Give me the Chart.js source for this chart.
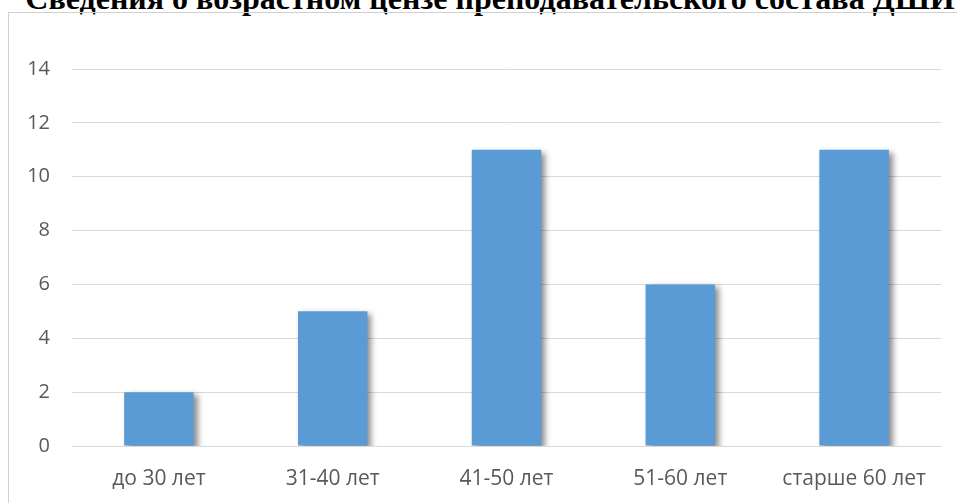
<!DOCTYPE html>
<html>
<head>
<meta charset="utf-8">
<script src="https://cdn.jsdelivr.net/npm/chart.js@4"></script>
<style>
  html, body { margin: 0; padding: 0; background: #fff; overflow: hidden; }
  body { width: 957px; height: 503px; position: relative; }
  #title {
    position: absolute; left: 0; top: -18px; width: 980px; text-align: center;
    font: bold 32px/32px "Liberation Serif", "DejaVu Serif", serif; color: #000; white-space: nowrap;
  }
  #frame {
    position: absolute; left: 8px; top: 12px; width: 970px; height: 510px;
    border: 1px solid #d0d0d0; box-sizing: border-box;
  }
  #wrap { position: absolute; left: 9px; top: 14px; width: 948px; height: 489px; }
</style>
</head>
<body>
<div id="title">Сведения о возрастном цензе преподавательского состава ДШИ</div>
<div id="frame"></div>
<div id="wrap"><canvas id="myChart"></canvas></div>
<script>
// categories and values
const categories = ["до 30 лет", "31-40 лет", "41-50 лет", "51-60 лет", "старше 60 лет"];
const teachers = [2, 5, 11, 6, 11];
const yTicks = [0, 2, 4, 6, 8, 10, 12, 14];

// soft shadow under the bars like in the office chart
const barShadow = {
    id: 'barShadow',
    beforeDatasetsDraw(chart) {
        const ctx = chart.ctx;
        ctx.save();
        ctx.shadowColor = 'rgba(0,0,0,0.45)';
        ctx.shadowBlur = 6;
        ctx.shadowOffsetX = 4;
        ctx.shadowOffsetY = 3;
    },
    afterDatasetsDraw(chart) {
        chart.ctx.restore();
    }
};

const ctx = document.getElementById('myChart').getContext('2d');
const myChart = new Chart(ctx, {
    type: 'bar',
    data: {
        labels: categories,
        datasets: [{
            label: 'преподаватели',
            data: teachers,
            backgroundColor: '#5b9bd5',
            borderWidth: 0,
            categoryPercentage: 1,
            barPercentage: 0.4
        }]
    },
    options: {
        responsive: true,
        maintainAspectRatio: false,
        animation: false,
        layout: { padding: { top: 55, right: 16, bottom: 0, left: 0 } },
        plugins: {
            legend: { display: false },
            tooltip: { enabled: false }
        },
        scales: {
            x: {
                afterFit: (axis) => { axis.height = 57; },
                grid: { display: false, drawTicks: false },
                border: { display: true, color: '#d9d9d9' },
                ticks: {
                    color: '#595959',
                    font: { family: "'Open Sans', 'Liberation Sans', sans-serif", size: 21 },
                    padding: 20
                }
            },
            y: {
                min: 0,
                max: 14,
                afterBuildTicks: (axis) => { axis.ticks = yTicks.map(v => ({ value: v })); },
                afterFit: (axis) => { axis.width = 63; },
                grid: { color: '#d9d9d9', drawTicks: false },
                border: { display: false },
                ticks: {
                    color: '#595959',
                    font: { family: "'Open Sans', 'Liberation Sans', sans-serif", size: 20 },
                    padding: 22
                }
            }
        }
    },
    plugins: [barShadow]
});
</script>
</body>
</html>
